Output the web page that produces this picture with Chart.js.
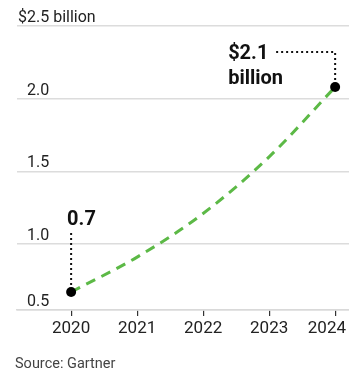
<!DOCTYPE html>
<html><head><meta charset="utf-8">
<script src="https://cdn.jsdelivr.net/npm/chart.js@4/dist/chart.umd.min.js"></script>
<style>html,body{margin:0;padding:0;background:#fff}</style>
</head><body>
<canvas id="c" width="349" height="373"></canvas>
<script>
const years = [2020, 2021, 2022, 2023, 2024];
const marketValues = [0.67, 0.91, 1.21, 1.6, 2.08];
const yTickValues = [0.546, 1.0, 1.5, 2.0, 2.5];
const yTickLabels = ['0.5', '1.0', '1.5', '2.0', '$2.5'];
const yUnitSuffix = 'billion';
const xTickLabels = ['2020', '2021', '2022', '2023', '2024'];
const calloutIndexes = [0, 4];
const calloutTexts = [['0.7'], ['$2.1', 'billion']];
const sourceText = 'Source: Gartner';

const FONT = 'Roboto, "Noto Sans", sans-serif';

const extras = {
  id: 'extras',
  beforeDraw(chart) {
    const xs = chart.scales.x;
    const items = xs.getLabelItems(chart.chartArea);
    const last = items[items.length - 1];
    if (last && !last._moved) {
      last.options.textAlign = 'right';
      last.options.translation[0] = chart.width - 3;
      last._moved = true;
    }
  },
  afterDraw(chart) {
    const ctx = chart.ctx;
    const ys = chart.scales.y;
    const items = ys.getLabelItems(chart.chartArea);
    const top = items[items.length - 1];
    ctx.save();
    ctx.font = '16px ' + FONT;
    ctx.fillStyle = '#222';
    ctx.textAlign = 'left';
    ctx.textBaseline = 'middle';
    const [tx, ty] = top.options.translation;
    ctx.fillText(yUnitSuffix, tx + 4, ty + (top.textOffset || 0));
    ctx.restore();
  },
  afterDatasetsDraw(chart) {
    const ctx = chart.ctx;
    const meta = chart.getDatasetMeta(0);
    ctx.save();
    ctx.strokeStyle = '#111';
    ctx.lineWidth = 2;
    ctx.setLineDash([2, 3]);
    let p = meta.data[calloutIndexes[0]];
    ctx.beginPath();
    ctx.moveTo(p.x, p.y - 7);
    ctx.lineTo(p.x, p.y - 61);
    ctx.stroke();
    p = meta.data[calloutIndexes[1]];
    ctx.beginPath();
    ctx.moveTo(p.x, p.y - 7);
    ctx.lineTo(p.x, p.y - 35);
    ctx.lineTo(p.x - 60, p.y - 35);
    ctx.stroke();
    ctx.setLineDash([]);
    ctx.fillStyle = '#111';
    ctx.font = 'bold 20px ' + FONT;
    ctx.textAlign = 'left';
    ctx.textBaseline = 'alphabetic';
    const p0 = meta.data[calloutIndexes[0]];
    ctx.fillText(calloutTexts[0][0], p0.x - 4, p0.y - 67);
    ctx.fillText(calloutTexts[1][0], p.x - 107, p.y - 28);
    ctx.fillText(calloutTexts[1][1], p.x - 107, p.y - 3);
    ctx.restore();
  }
};

new Chart(document.getElementById('c'), {
  type: 'line',
  data: {
    datasets: [{
      data: years.map((y, i) => ({ x: y, y: marketValues[i] })),
      borderColor: '#5cb946',
      borderWidth: 3,
      borderDash: [10, 7],
      tension: 0.4,
      cubicInterpolationMode: 'monotone',
      pointRadius: (c) => calloutIndexes.includes(c.dataIndex) ? 5 : 0,
      pointHoverRadius: 0,
      pointBackgroundColor: '#000',
      pointBorderColor: '#000',
      pointBorderWidth: 0,
      fill: false
    }]
  },
  options: {
    responsive: false,
    animation: false,
    devicePixelRatio: 1,
    layout: { autoPadding: false, padding: { left: 15, right: 0, top: 26, bottom: 0 } },
    plugins: {
      legend: { display: false },
      tooltip: { enabled: false },
      title: {
        display: true, text: sourceText, position: 'bottom', align: 'start',
        color: '#444', font: { family: FONT, size: 14.5, weight: 'normal' },
        padding: { top: 12.9, bottom: 0.3 }
      }
    },
    scales: {
      x: {
        type: 'linear', min: 2019.18, max: 2024.21,
        afterBuildTicks: (s) => { s.ticks = years.map(v => ({ value: v })); },
        afterFit: (s) => { s.paddingLeft = 0; s.paddingRight = 0; },
        ticks: {
          callback: (v, i) => xTickLabels[i],
          color: '#222', font: { family: FONT, size: 17 }, padding: 3, maxRotation: 0, autoSkip: false
        },
        grid: { drawOnChartArea: false, drawTicks: true, tickLength: 6, color: '#333', lineWidth: 1.2 },
        border: { display: true, color: '#d9d9d9', width: 1.5 }
      },
      y: {
        min: 0.546, max: 2.5,
        afterBuildTicks: (s) => { s.ticks = yTickValues.map(v => ({ value: v })); },
        afterFit: (s) => { s.paddingTop = 0; s.paddingBottom = 0; },
        ticks: {
          mirror: true, crossAlign: 'far', padding: 1, labelOffset: -8,
          callback: (v, i) => yTickLabels[i],
          color: '#222', font: { family: FONT, size: 16 }
        },
        grid: { color: '#dcdcdc', lineWidth: 1.5, drawTicks: false },
        border: { display: false }
      }
    }
  },
  plugins: [extras]
});
</script>
</body></html>
